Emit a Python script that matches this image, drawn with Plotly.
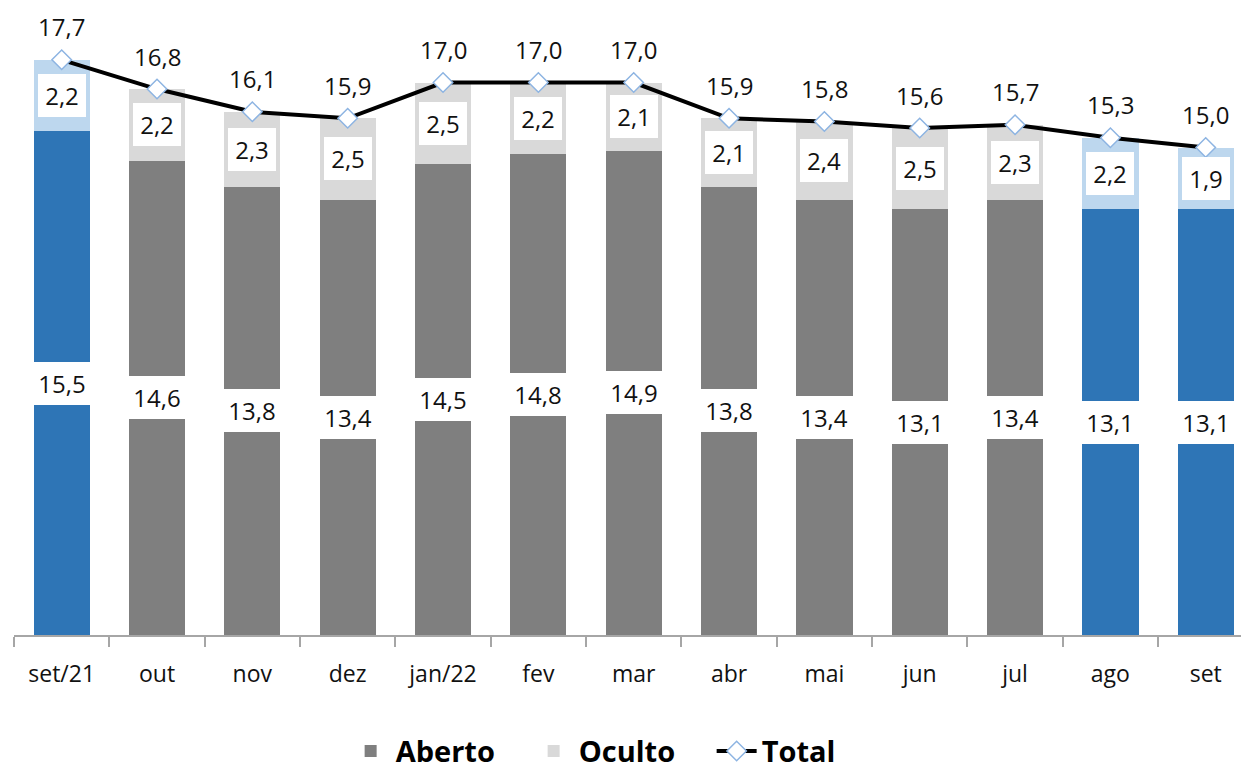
import plotly.graph_objects as go

months = ["set/21", "out", "nov", "dez", "jan/22", "fev", "mar", "abr", "mai", "jun", "jul", "ago", "set"]
aberto = [15.5, 14.6, 13.8, 13.4, 14.5, 14.8, 14.9, 13.8, 13.4, 13.1, 13.4, 13.1, 13.1]
oculto = [2.2, 2.2, 2.3, 2.5, 2.5, 2.2, 2.1, 2.1, 2.4, 2.5, 2.3, 2.2, 1.9]
total = [17.7, 16.8, 16.1, 15.9, 17.0, 17.0, 17.0, 15.9, 15.8, 15.6, 15.7, 15.3, 15.0]
highlight = [True, False, False, False, False, False, False, False, False, False, False, True, True]

GRAY = "#7F7F7F"
LGRAY = "#D9D9D9"
BLUE = "#2E75B6"
LBLUE = "#BDD7EE"
FONT = "Open Sans"
TXT = "#111111"


def fmt(v):
    return f"{v:.1f}".replace(".", ",")


def pick(vals, flag):
    return [v if h == flag else None for v, h in zip(vals, highlight)]


fig = go.Figure()
fig.add_trace(go.Bar(x=months, y=pick(aberto, False), name="Aberto", marker=dict(color=GRAY, line=dict(width=0)),
                     legendgroup="a"))
fig.add_trace(go.Bar(x=months, y=pick(aberto, True), name="Aberto", marker=dict(color=BLUE, line=dict(width=0)),
                     legendgroup="a", showlegend=False))
fig.add_trace(go.Bar(x=months, y=pick(oculto, False), name="Oculto", marker=dict(color=LGRAY, line=dict(width=0)),
                     legendgroup="o"))
fig.add_trace(go.Bar(x=months, y=pick(oculto, True), name="Oculto", marker=dict(color=LBLUE, line=dict(width=0)),
                     legendgroup="o", showlegend=False))
fig.add_trace(go.Scatter(x=months, y=total, name="Total", mode="lines+markers",
                         line=dict(color="black", width=4),
                         marker=dict(symbol="diamond", size=15, color="white",
                                     line=dict(color="#8DB4E2", width=1.5))))

annotations = []
for m, a, o, t in zip(months, aberto, oculto, total):
    annotations.append(dict(x=m, y=a / 2, text=fmt(a), showarrow=False, bgcolor="white",
                            width=62, height=43, borderpad=0, borderwidth=0,
                            font=dict(family=FONT, size=24, color=TXT)))
    annotations.append(dict(x=m, y=a + o / 2, text=fmt(o), showarrow=False, bgcolor="white",
                            width=48, height=43, borderpad=0, borderwidth=0,
                            font=dict(family=FONT, size=24, color=TXT)))
    annotations.append(dict(x=m, y=t, text=fmt(t), showarrow=False, yshift=33,
                            font=dict(family=FONT, size=24, color=TXT)))

fig.update_layout(
    barmode="stack",
    bargap=0.41,
    width=1241, height=774,
    margin=dict(l=14, r=0, t=0, b=139, autoexpand=False),
    paper_bgcolor="white", plot_bgcolor="white",
    font=dict(family=FONT, size=23, color=TXT),
    showlegend=True,
    legend=dict(orientation="h", x=0.494, xanchor="center", y=-0.183, yanchor="middle",
                font=dict(family=FONT, size=29, color="black", weight="bold"),
                itemwidth=40, traceorder="normal", entrywidth=128, entrywidthmode="pixels"),
    annotations=annotations,
    xaxis=dict(type="category", range=[-0.5, 12.37], tickson="boundaries", ticks="outside",
               ticklen=10, tickwidth=1.5, tickcolor="#A6A6A6", showline=True, linecolor="#A6A6A6",
               linewidth=1.5, showgrid=False, ticklabelstandoff=18,
               tickfont=dict(family=FONT, size=23, color=TXT)),
    yaxis=dict(range=[0, 19.54], visible=False, showgrid=False, zeroline=False),
)

fig.write_html("out.html", config={"displayModeBar": False},
               post_script="document.body.style.margin='0';document.body.style.overflow='hidden';")
